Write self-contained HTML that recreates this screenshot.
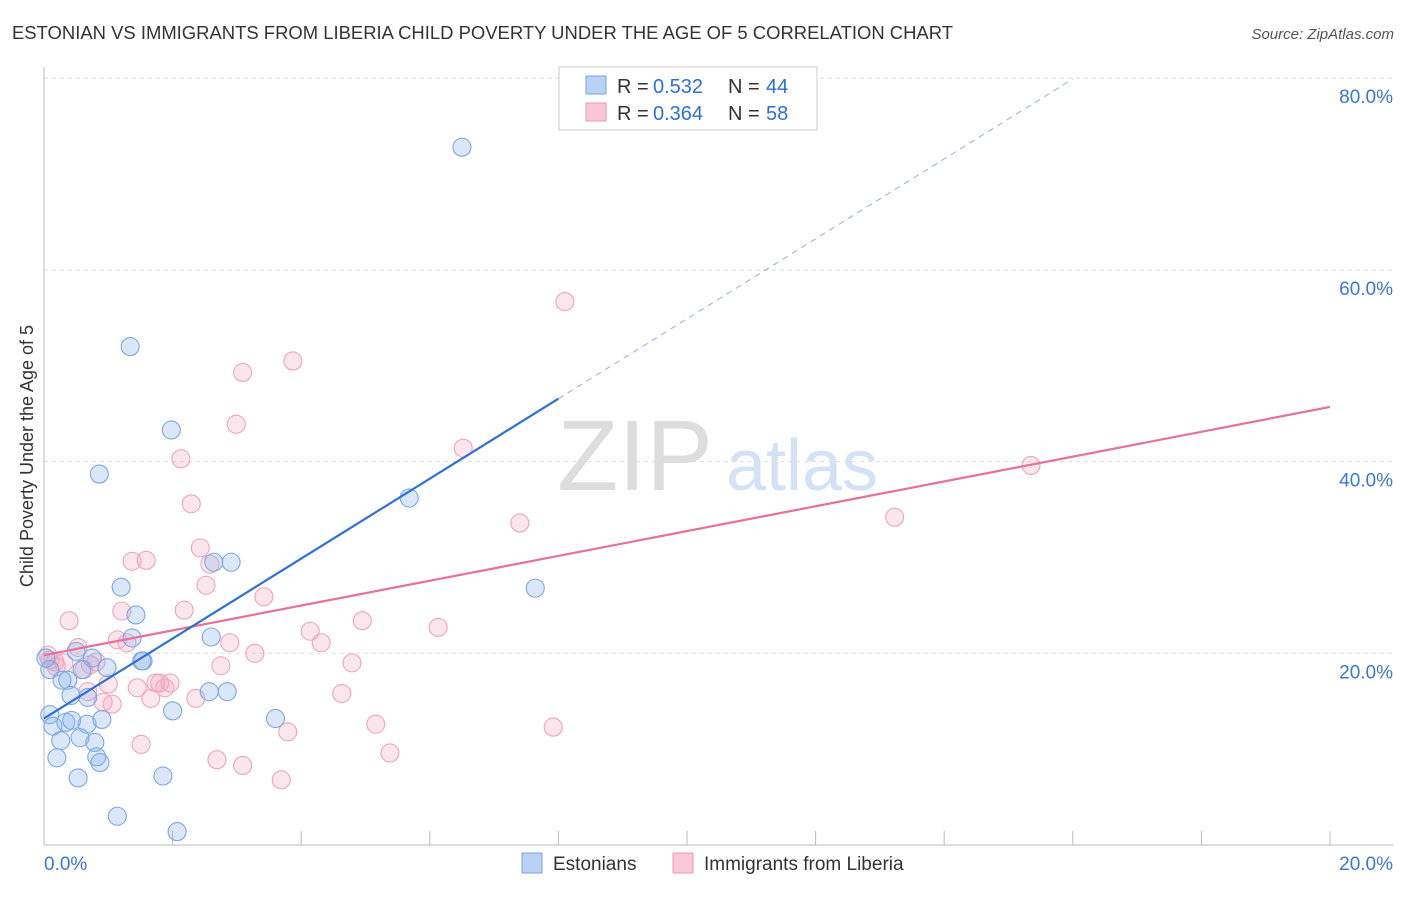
<!DOCTYPE html>
<html><head><meta charset="utf-8"><style>
body{margin:0;background:#fff;font-family:"Liberation Sans",sans-serif}
svg text{font-family:"Liberation Sans",sans-serif}
</style></head><body>
<svg id="chart" width="1406" height="892" xmlns="http://www.w3.org/2000/svg">
<text x="12" y="39" font-size="18" fill="#333" textLength="941" lengthAdjust="spacingAndGlyphs">ESTONIAN VS IMMIGRANTS FROM LIBERIA CHILD POVERTY UNDER THE AGE OF 5 CORRELATION CHART</text>
<text x="1394" y="39" font-size="15" fill="#555" text-anchor="end" font-style="italic">Source: ZipAtlas.com</text>
<text transform="translate(33,456) rotate(-90)" font-size="18" fill="#333" text-anchor="middle">Child Poverty Under the Age of 5</text>
<g>
<text x="635" y="490" font-size="100" fill="#ddd" font-family="Liberation Serif" text-anchor="middle">ZIP</text>
<text x="802" y="490" font-size="72" fill="#d3e2f4" text-anchor="middle">atlas</text>
</g>
<g id="grid"></g>
<g id="axes"></g>
<g id="marks"></g>
<g>
<rect x="559" y="67" width="258" height="63" fill="#fff" stroke="#ccc"/>
<rect x="586" y="76" width="20" height="18" fill="#b9d2f3" stroke="#7aa6e0"/>
<rect x="586" y="103" width="20" height="18" fill="#f9c7d6" stroke="#eb9bb5"/>
<text x="617" y="93" font-size="20" fill="#333">R =</text><text x="653" y="93" font-size="20" fill="#2f6fd6">0.532</text>
<text x="728" y="93" font-size="20" fill="#333">N =</text><text x="766" y="93" font-size="20" fill="#2f6fd6">44</text>
<text x="617" y="120" font-size="20" fill="#333">R =</text><text x="653" y="120" font-size="20" fill="#2f6fd6">0.364</text>
<text x="728" y="120" font-size="20" fill="#333">N =</text><text x="766" y="120" font-size="20" fill="#2f6fd6">58</text>
</g>
<g>
<rect x="522" y="853" width="20" height="20" fill="#b9d2f3" stroke="#7aa6e0"/>
<text x="553" y="870" font-size="19" fill="#333">Estonians</text>
<rect x="673" y="853" width="20" height="20" fill="#f9c7d6" stroke="#eb9bb5"/>
<text x="704" y="870" font-size="19" fill="#333">Immigrants from Liberia</text>
</g>
</svg>
<script>
const xTicks=[0,20];
const yTicks=[20,40,60,80];
const blueX=[6.5,1.34,1.98,0.86,5.68,2.64,2.91,1.2,7.64,1.43,1.37,2.6,1.54,1.52,0.5,0.75,0.98,0.59,0.09,0.28,0.37,0.42,0.68,2.57,2.85,2.0,3.6,0.09,0.14,0.34,0.43,0.67,0.9,0.56,0.26,0.79,0.82,0.87,0.2,0.53,1.85,1.14,2.07,0.03];
const blueY=[72.8,52.0,43.3,38.7,36.2,29.5,29.5,26.9,26.8,24.0,21.6,21.7,19.2,19.2,20.2,19.5,18.5,18.3,18.3,17.2,17.2,15.6,15.4,16.0,16.0,14.0,13.2,13.6,12.4,12.8,13.0,12.6,13.1,11.2,10.9,10.7,9.2,8.6,9.1,7.0,7.2,3.0,1.4,19.5];
const pinkX=[8.1,3.87,3.09,2.99,6.52,2.13,15.35,2.29,7.4,13.23,2.43,1.37,1.59,2.58,2.52,3.42,1.21,2.18,0.39,4.95,6.13,4.14,1.14,1.29,2.89,4.31,3.28,0.53,0.06,0.17,0.31,0.81,0.72,4.79,2.75,0.62,1.0,1.45,1.74,1.88,1.8,1.96,0.68,1.66,2.36,4.63,0.92,1.06,5.16,7.92,3.79,1.51,5.38,2.69,3.09,3.69,0.09,0.19];
const pinkY=[56.7,50.5,49.3,43.9,41.4,40.3,39.6,35.6,33.6,34.2,31.0,29.6,29.7,29.3,27.1,25.9,24.4,24.5,23.4,23.4,22.7,22.3,21.4,21.1,21.1,21.1,20.0,20.6,19.8,19.1,19.0,19.1,18.8,19.0,18.7,18.3,16.8,16.4,16.9,16.4,16.9,16.9,16.0,15.3,15.3,15.8,14.9,14.7,12.6,12.3,11.8,10.5,9.6,8.9,8.3,6.8,19.3,18.6];
const blueLine=[13.2,4.17];
const pinkLine=[19.8,1.295];
const NS="http://www.w3.org/2000/svg";
const sx=v=>44+v*64.3, sy=v=>845-v*9.585;
function mk(tag,attrs,parent){const e=document.createElementNS(NS,tag);for(const k in attrs)e.setAttribute(k,attrs[k]);document.getElementById(parent).appendChild(e);return e;}
yTicks.forEach(t=>{
 const g=mk('line',{x1:44,x2:1393,y1:sy(t),y2:sy(t),stroke:'#ddd','stroke-dasharray':'4,4'},'grid');
 
 
 const l=mk('text',{x:1393,y:sy(t)+25,'font-size':19,fill:'#3a78d4','text-anchor':'end'},'axes');
 l.textContent=t.toFixed(1)+'%';
 
 
});
mk('line',{x1:44,x2:44,y1:67,y2:845,stroke:'#bbb'},'axes');
mk('line',{x1:44,x2:1393,y1:845,y2:845,stroke:'#bbb'},'axes');
for(let i=1;i<=10;i++){const t=mk('line',{x1:sx(i*2),x2:sx(i*2),y1:831,y2:845,stroke:'#bbb'},'axes');
 
 }
xTicks.forEach((t,i)=>{const l=mk('text',{x:i?1393:44,y:870,'font-size':19,fill:'#3a78d4','text-anchor':i?'end':'start'},'axes');
 l.textContent=t.toFixed(1)+'%';
 
 });
pinkX.forEach((x,i)=>{const c=mk('circle',{cx:sx(x),cy:sy(pinkY[i]),r:9,fill:'rgba(245,165,192,0.28)',stroke:'#eda5bd','stroke-width':1.1},'marks');
 
 });
blueX.forEach((x,i)=>{const c=mk('circle',{cx:sx(x),cy:sy(blueY[i]),r:9,fill:'rgba(140,180,235,0.32)',stroke:'#7ea8e3','stroke-width':1.1},'marks');
 
 });
let e=mk('line',{x1:sx(0),y1:sy(pinkLine[0]),x2:sx(20),y2:sy(pinkLine[0]+pinkLine[1]*20),stroke:'#e8709a','stroke-width':2.2},'marks');


e=mk('line',{x1:sx(0),y1:sy(blueLine[0]),x2:sx(8),y2:sy(blueLine[0]+blueLine[1]*8),stroke:'#2f6fd6','stroke-width':2.2},'marks');


e=mk('line',{x1:sx(8),y1:sy(blueLine[0]+blueLine[1]*8),x2:sx(16),y2:sy(blueLine[0]+blueLine[1]*16),stroke:'#8fb2e6','stroke-width':1,'stroke-dasharray':'6,5'},'marks');


</script>
</body></html>
